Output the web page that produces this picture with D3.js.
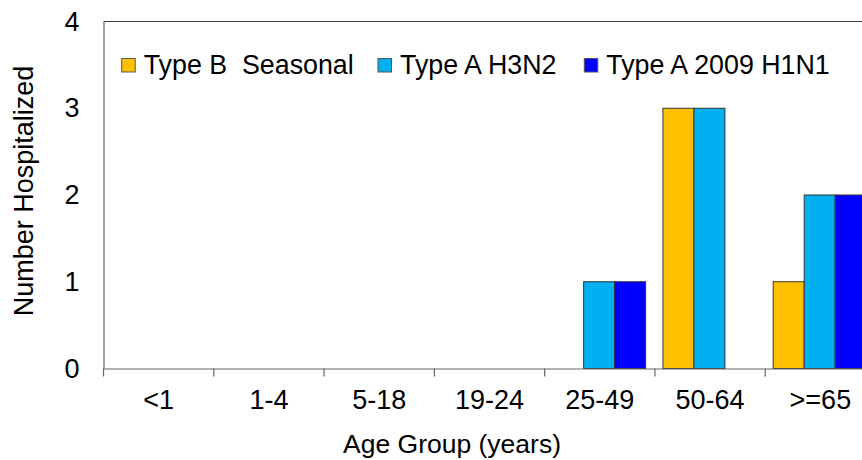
<!DOCTYPE html>
<html>
<head>
<meta charset="utf-8">
<script src="https://cdn.jsdelivr.net/npm/d3@7"></script>
<style>
  html, body { margin: 0; padding: 0; background: #fff; }
  svg { display: block; font-family: "Liberation Sans", Arial, sans-serif; }
</style>
</head>
<body>
<svg id="chart" width="862" height="460"></svg>
<script>
const categories = ["<1", "1-4", "5-18", "19-24", "25-49", "50-64", ">=65"];
const seriesNames = ["Type B  Seasonal", "Type A H3N2", "Type A 2009 H1N1"];
const typeB = [0, 0, 0, 0, 0, 3, 1];
const h3n2 = [0, 0, 0, 0, 1, 3, 2];
const h1n1 = [0, 0, 0, 0, 1, 0, 2];
const yTicks = [0, 1, 2, 3, 4];
const colors = ["#FFC000", "#00B0F0", "#0000FF"];

const seriesValues = [typeB, h3n2, h1n1];
const svg = d3.select("#chart");

const pLeft = 103.5, pRight = 875.5, pTop = 21.5, pBottom = 368.5;

const x = d3.scaleBand().domain(categories).range([pLeft, pRight]).padding(0);
const xs = d3.scaleBand().domain(d3.range(seriesNames.length)).range([8, 101]).padding(0);
const y = d3.scaleLinear().domain([0, 4]).range([pBottom, pTop]);

// top border
svg.append("line").attr("x1", pLeft).attr("x2", 862).attr("y1", pTop).attr("y2", pTop)
  .attr("stroke", "#444").attr("stroke-width", 1.2);

// bars
const rows = categories.map((c, i) => ({ c, vals: seriesValues.map(s => s[i]) }));
const g = svg.append("g");
rows.forEach(r => {
  r.vals.forEach((v, j) => {
    if (v <= 0) return;
    g.append("rect")
      .attr("x", x(r.c) + xs(j))
      .attr("y", y(v))
      .attr("width", xs.bandwidth())
      .attr("height", y(0) - y(v))
      .attr("fill", colors[j])
      .attr("stroke", "#333")
      .attr("stroke-width", 1);
  });
});

// y axis
const yAxis = svg.append("g").attr("transform", `translate(${pLeft},0)`)
  .call(d3.axisLeft(y).tickValues(yTicks).tickFormat(d3.format("d")).tickSize(0).tickPadding(24));
yAxis.select(".domain").attr("stroke", "#666").attr("stroke-width", 1.2);
yAxis.selectAll("text").attr("font-size", 27).attr("fill", "#000")
  .attr("font-family", "Liberation Sans, Arial, sans-serif");

// x axis
const xAxis = svg.append("g").attr("transform", `translate(0,${pBottom})`)
  .call(d3.axisBottom(x).tickSize(0).tickPadding(21));
xAxis.select(".domain").attr("stroke", "#666").attr("stroke-width", 1.2);
xAxis.selectAll("text").attr("font-size", 27).attr("fill", "#000")
  .attr("font-family", "Liberation Sans, Arial, sans-serif");
// tick marks at band boundaries
const bounds = categories.map(c => x(c));
xAxis.selectAll("line.bound").data(bounds).enter().append("line")
  .attr("class", "bound")
  .attr("x1", d => d).attr("x2", d => d).attr("y1", 0).attr("y2", 8)
  .attr("stroke", "#666").attr("stroke-width", 1.2);

// axis titles
svg.append("text").attr("x", 452).attr("y", 453)
  .attr("text-anchor", "middle").attr("font-size", 26.5).attr("fill", "#000")
  .text("Age Group (years)");
svg.append("text").attr("transform", "translate(33,191) rotate(-90)")
  .attr("text-anchor", "middle").attr("font-size", 27).attr("fill", "#000")
  .text("Number Hospitalized");

// legend
const legendX = [121.7, 378, 584.3];
const leg = svg.append("g");
seriesNames.forEach((name, i) => {
  leg.append("rect").attr("x", legendX[i]).attr("y", 58.5).attr("width", 13.5).attr("height", 13.5)
    .attr("fill", colors[i]).attr("stroke", "#555").attr("stroke-width", 1);
  leg.append("text").attr("x", legendX[i] + 22).attr("y", 74)
    .attr("font-size", 26.8).attr("fill", "#000")
    .style("white-space", "pre")
    .text(name);
});
</script>
</body>
</html>
